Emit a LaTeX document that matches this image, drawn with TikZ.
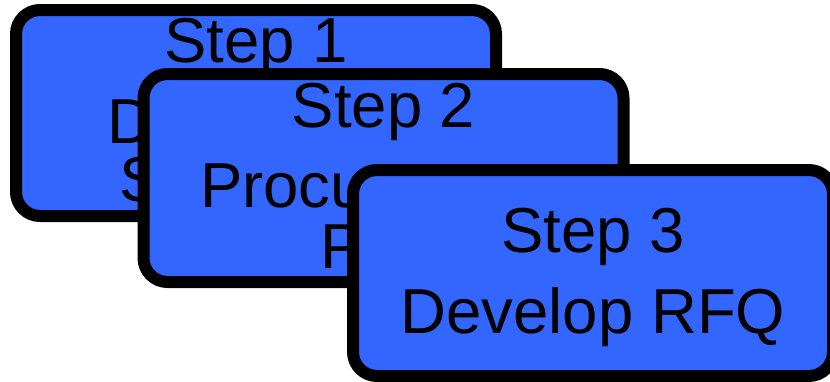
\documentclass[tikz,border=0pt]{standalone}
\usepackage{fontspec}
\setmainfont{Liberation Sans}
\definecolor{stepblue}{HTML}{3366FF}
\begin{document}
\begin{tikzpicture}[x=1pt,y=-1pt,
  stepcard/.style={draw=black, fill=stepblue, line width=12pt,
    rounded corners=24pt, minimum width=480pt, minimum height=206pt,
    inner sep=0pt, outer sep=0pt},
  steptext/.style={font=\fontsize{63.5}{76}\selectfont, text=black,
    inner sep=0pt, outer sep=0pt}]
\useasboundingbox (0,0) rectangle (830,381);
% card 1 (back)
\node[stepcard] (card1) at (256,113) {};
\node[steptext, anchor=base] (s1a) at (256,62) {Step 1};
\node[steptext, anchor=base west] (s1b) at (107,143) {D};
\node[steptext, anchor=base west] (s1c) at (119,201) {S};
% card 2 (middle)
\node[stepcard, minimum height=208pt] (card2) at (383.5,178) {};
\node[steptext, anchor=base] (s2a) at (383.5,127) {Step 2};
\node[steptext, anchor=base west] (s2b) at (200,207) {Procu};
\node[steptext, anchor=base west] (s2c) at (320,268) {P};
% card 3 (front)
\node[stepcard] (card3) at (593,273) {};
\node[steptext, anchor=base] (s3a) at (593,252) {Step 3};
\node[steptext, anchor=base] (s3b) at (593,333) {Develop RFQ};
\end{tikzpicture}
\end{document}
